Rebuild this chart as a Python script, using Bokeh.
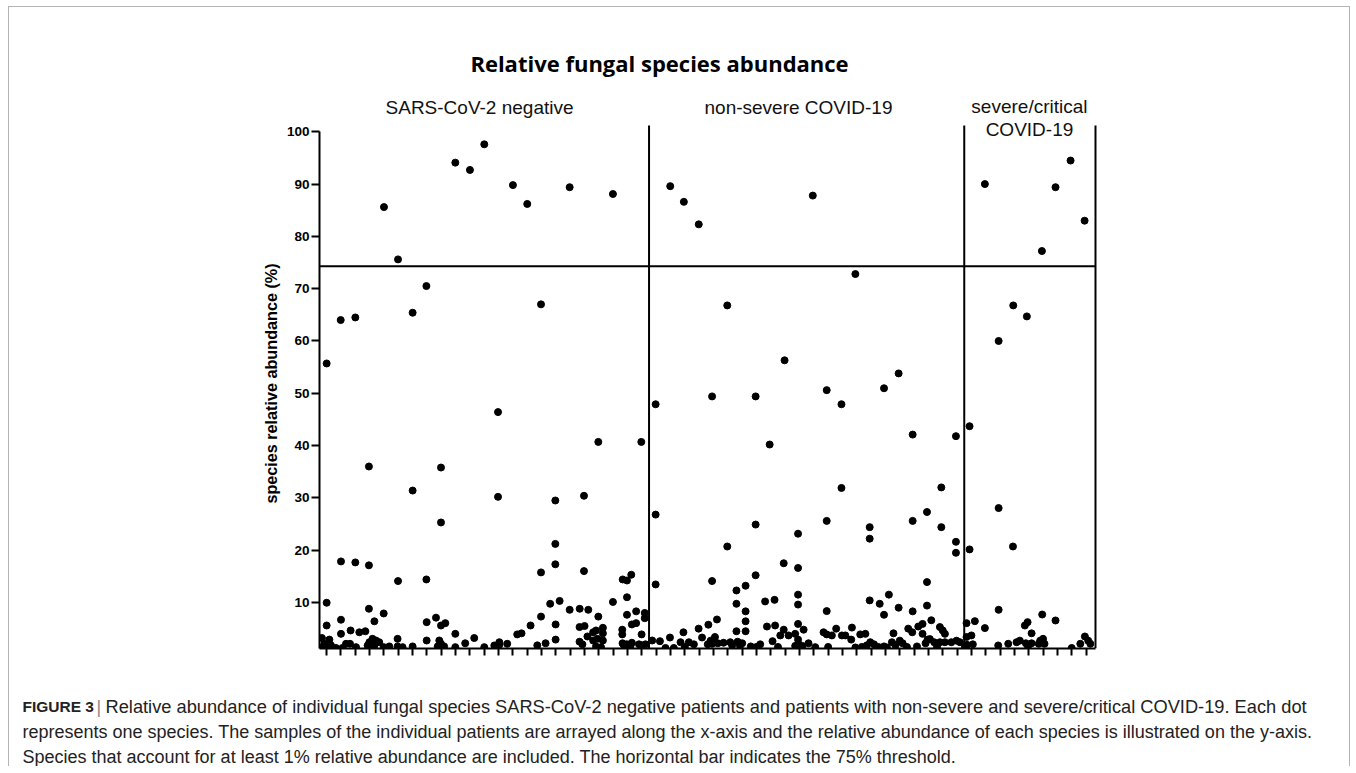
from bokeh.plotting import figure
from bokeh.layouts import column
from bokeh.models import Range1d, FixedTicker
from bokeh.core.properties import value
from bokeh.embed import file_html
from bokeh.resources import INLINE

# ---------------- data ----------------
TITLE = "Relative fungal species abundance"
GROUPS = ["SARS-CoV-2 negative", "non-severe COVID-19", "severe/critical\nCOVID-19"]
GROUP_CENTERS = [11.67, 33.93, 50.05]
DIVIDERS = [23.5, 45.5, 54.66]
PATIENTS = list(range(1, 55))
Y_TICKS = [10, 20, 30, 40, 50, 60, 70, 80, 90, 100]
THRESHOLD = 74.3
Y_LABEL = "species relative abundance (%)"

neg_x = [1.0, 1.98, 3.0, 5.0, 5.98, 7.0, 7.96, 9.98, 11.0, 12.0, 14.0, 15.0, 15.96, 17.96, 20.98,
         3.95, 7.0, 8.98, 8.98, 12.96, 12.96, 16.96, 16.96, 16.96, 18.96, 18.96, 19.96, 22.96,
         2.0, 3.0, 3.95, 5.98, 7.96, 15.96, 21.66, 21.96, 22.26, 21.96,
         1.0, 3.95, 4.98, 17.26, 16.6, 17.96, 18.66, 19.26, 20.98, 21.96, 22.6, 23.2, 23.2, 15.96, 19.96, 8.63,
         1.0, 0.67, 1.19, 0.84, 0.75, 1.0, 1.3, 1.65,
         2.0, 2.0, 2.35, 2.63, 2.67, 2.1,
         3.05, 3.28, 3.7, 4.33, 3.98, 4.2, 4.44, 4.67, 3.86, 4.33,
         4.98, 5.37, 5.95, 5.95, 6.3, 7.0,
         7.98, 7.98, 8.98, 9.28, 8.86, 8.98, 8.75, 9.2, 9.05,
         9.98, 9.98, 10.67, 11.3, 12.0, 12.7, 13.05, 12.9, 13.6, 13.05,
         14.3, 14.6, 15.23, 15.7, 16.28, 16.98, 16.98,
         18.65, 19.0, 18.65, 18.85, 19.2, 19.6, 19.8, 19.6, 19.9, 20.28, 20.28, 20.28, 19.8, 20.15,
         21.63, 21.63, 22.3, 22.6, 22.98, 21.65, 21.95, 22.3, 21.75, 22.2, 22.8, 23.0, 23.25]
neg_y = [55.7, 64.0, 64.5, 85.6, 75.6, 65.4, 70.5, 94.1, 92.7, 97.6, 89.8, 86.2, 67.0, 89.4, 88.1,
         36.0, 31.4, 35.8, 25.3, 46.4, 30.2, 29.5, 21.2, 17.3, 30.4, 16.0, 40.7, 40.7,
         17.85, 17.66, 17.1, 14.1, 14.4, 15.75, 14.4, 14.2, 15.3, 11.0,
         9.95, 8.8, 7.9, 10.3, 9.75, 8.6, 8.8, 8.6, 10.1, 7.65, 8.3, 8.0, 7.0, 7.3, 7.3, 7.1,
         5.6, 3.2, 2.9, 2.1, 1.5, 1.4, 1.8, 1.3,
         6.7, 4.0, 2.1, 2.1, 4.65, 1.3,
         1.46, 4.3, 4.5, 6.4, 2.4, 3.05, 2.73, 2.4, 1.78, 1.78,
         1.46, 1.6, 3.05, 1.6, 1.46, 1.6,
         6.24, 2.73, 5.6, 6.05, 2.73, 2.1, 1.6, 1.6, 1.4,
         4.0, 1.46, 2.2, 3.2, 1.46, 1.78, 2.4, 1.46, 2.1, 1.9,
         3.9, 4.1, 5.6, 1.8, 2.2, 5.8, 2.9,
         5.3, 5.5, 2.5, 2.0, 3.5, 4.3, 4.65, 2.73, 3.05, 5.16, 4.1, 2.73, 1.6, 1.45,
         4.8, 3.9, 5.8, 6.05, 3.9, 2.2, 2.0, 2.3, 1.8, 1.7, 2.0, 1.8, 2.0]

nonsev_x = [23.96, 23.96, 23.96, 24.98, 25.93, 26.97, 28.96, 27.9, 30.94, 30.94, 30.94, 31.92, 32.96,
            34.93, 35.9, 36.93, 36.93, 37.9, 39.9, 40.92, 41.9, 44.92, 28.96, 27.9, 35.9, 33.9, 33.9,
            33.9, 33.9, 33.9, 32.9, 31.6, 32.26, 29.6, 29.6, 30.24, 30.24, 30.24, 30.24, 29.6, 28.24,
            27.64, 26.96, 27.2, 25.9, 24.96, 24.26, 23.72,
            38.9, 38.9, 38.9, 39.6, 40.24, 39.9, 40.92, 41.9, 41.9, 42.9, 42.9, 42.9, 43.2, 43.9, 43.9,
            44.92, 44.92, 35.9,
            24.65, 25.23, 25.7, 26.28, 26.63, 27.8, 28.1, 27.9, 28.3, 28.7, 27.6, 29.17, 29.3, 29.68,
            30.0, 29.85, 30.6, 31.26, 31.73, 32.3, 32.12, 32.66, 32.9, 33.24, 33.7, 34.29, 33.9, 33.95,
            33.7, 34.2, 34.63, 35.1, 35.68, 35.9, 36.26, 36.56, 36.96, 37.2, 37.66, 37.61, 37.9, 38.35,
            38.24, 38.6, 38.94, 38.7, 39.2, 40.56, 39.9, 40.1, 40.45, 40.7, 41.0, 41.2, 41.59, 41.87,
            42.29, 42.59, 42.59, 42.94, 43.1, 42.8, 43.4, 43.8, 44.0, 44.15, 43.8, 44.15, 44.6, 44.96,
            45.2, 41.5, 42.2, 36.0, 32.5, 26.0, 31.0, 39.5, 43.6]
nonsev_y = [47.9, 26.8, 13.45, 89.6, 86.6, 82.3, 66.8, 49.4, 49.4, 24.9, 15.2, 40.2, 56.3,
            87.8, 50.6, 47.9, 31.9, 72.8, 50.96, 53.8, 42.1, 41.8, 20.7, 14.1, 25.6, 23.15, 16.6,
            11.5, 9.6, 5.9, 17.5, 10.2, 10.5, 12.3, 9.75, 13.2, 8.3, 6.4, 4.5, 4.5, 6.75,
            5.75, 5.0, 3.3, 4.3, 3.3, 2.6, 2.73,
            24.4, 22.2, 10.4, 9.75, 11.5, 7.65, 9.0, 25.6, 8.3, 27.3, 13.9, 9.4, 6.6, 32.0, 24.4,
            21.6, 19.5, 8.35,
            1.3, 1.3, 2.4, 2.4, 2.0, 2.7, 3.4, 2.1, 2.2, 2.3, 2.0, 2.4, 1.8, 2.5,
            2.2, 1.7, 1.6, 2.0, 5.4, 5.6, 2.6, 3.7, 4.8, 3.7, 4.0, 4.8, 2.9, 2.0,
            1.7, 1.7, 2.2, 1.46, 4.3, 3.9, 3.7, 5.0, 3.7, 3.7, 5.2, 2.9, 1.4, 1.5,
            3.9, 4.0, 2.4, 1.8, 2.0, 4.1, 1.6, 1.4, 2.4, 1.8, 2.7, 2.2, 5.0, 4.3,
            5.4, 5.9, 4.0, 2.9, 3.0, 2.2, 2.4, 5.3, 4.65, 4.0, 2.4, 2.4, 2.4, 2.7,
            2.4, 1.5, 1.6, 1.5, 1.5, 1.5, 1.5, 1.5, 1.5]

sev_x = [45.87, 45.87, 46.94, 47.9, 47.9, 47.9, 48.92, 48.9, 49.87, 50.92, 51.87, 52.92, 53.9,
         45.66, 46.24, 45.66, 46.0, 45.7, 46.1, 46.94, 47.87, 48.57, 49.15, 49.38, 49.73, 49.92,
         50.2, 49.8, 50.2, 49.95, 50.7, 50.8, 50.94, 51.0, 51.1, 51.87, 53.0, 53.6, 53.92, 54.15,
         54.3, 45.55]
sev_y = [43.7, 20.15, 90.0, 60.0, 28.05, 8.6, 66.8, 20.7, 64.7, 77.2, 89.4, 94.5, 83.0,
         6.05, 6.43, 3.4, 3.7, 1.9, 2.0, 5.1, 1.78, 2.1, 2.4, 2.7, 5.6, 6.24,
         4.1, 2.2, 2.2, 1.6, 2.1, 2.7, 7.7, 3.05, 2.1, 6.56, 1.3, 2.1, 3.5, 2.7,
         2.1, 1.5]

CAPTION_HEAD = "FIGURE 3"
CAPTION = [
    "Relative abundance of individual fungal species SARS-CoV-2 negative patients and patients with non-severe and severe/critical COVID-19. Each dot",
    "represents one species. The samples of the individual patients are arrayed along the x-axis and the relative abundance of each species is illustrated on the y-axis.",
    "Species that account for at least 1% relative abundance are included. The horizontal bar indicates the 75% threshold.",
]

# ---------------- layout ----------------
PAGE_X, PAGE_Y = 9, 7          # page position of the content (inside the grey box)
W = 1340
TOP_END, MAIN_END, CAP_END = 118, 680, 766     # page y where each panel ends
H_TOP = TOP_END - PAGE_Y
H_MAIN = MAIN_END - TOP_END
H_CAP = CAP_END - MAIN_END
FL, FR, FT, FB = 310, 252, 0, 32
X0, X1 = 0.5, 54.8
Y0 = 1.2
PX_PER_Y = 5.23
fw = W - FL - FR
fh = H_MAIN - FT - FB
Y1 = Y0 + fh / PX_PER_Y
DIV_TOP = 101.2
FONT = "Liberation Sans"
FRAME_TOP_PAGE = TOP_END + FT
FRAME_LEFT_PAGE = PAGE_X + FL


def px2x(px):
    return X0 + (px - FRAME_LEFT_PAGE) * (X1 - X0) / fw


def py2y(py):
    return Y1 - (py - FRAME_TOP_PAGE) * (Y1 - Y0) / fh


def plain(fig):
    fig.xgrid.visible = False
    fig.ygrid.visible = False
    fig.outline_line_color = None
    fig.background_fill_color = "white"
    fig.border_fill_color = "white"
    try:
        fig.frame_align = False
    except Exception:
        pass


# ---- header panel (title + group names), same x units as the main plot ----
t = figure(width=W, height=H_TOP, output_backend="svg", toolbar_location=None,
           x_range=Range1d(px2x(PAGE_X), px2x(PAGE_X + W)), y_range=Range1d(py2y(TOP_END), py2y(PAGE_Y)),
           min_border_left=0, min_border_right=0, min_border_top=0, min_border_bottom=0,
           x_axis_type=None, y_axis_type=None)
plain(t)
t.text(x=[px2x(659)], y=[py2y(62)], text=[TITLE], text_font=value("Open Sans"), text_font_style="bold",
       text_font_size="22px", text_align="center", text_baseline="middle", text_color="black")

# ---- main plot ----
p = figure(width=W, height=H_MAIN, output_backend="svg", toolbar_location=None,
           x_range=Range1d(X0, X1), y_range=Range1d(Y0, Y1),
           min_border_left=FL, min_border_right=FR, min_border_top=FT, min_border_bottom=FB)
plain(p)

header_rows = [[106.5], [106.5], [106, 129]]
for name, cx, rows in zip(GROUPS, GROUP_CENTERS, header_rows):
    for part, ry in zip(name.split("\n"), rows):
        target = t if ry < TOP_END else p
        target.text(x=[cx], y=[py2y(ry)], text=[part], text_font=value(FONT), text_font_size="19px",
                    text_align="center", text_baseline="middle", text_color="#111111")

ya = p.yaxis[0]
ya.ticker = FixedTicker(ticks=Y_TICKS)
ya.bounds = (Y0, 100)
ya.axis_line_width = 2
ya.axis_line_color = "black"
ya.major_tick_line_width = 2
ya.major_tick_line_color = "black"
ya.major_tick_out = 8
ya.major_tick_in = 0
ya.minor_tick_line_color = None
ya.major_label_text_font = FONT
ya.major_label_text_font_style = "bold"
ya.major_label_text_font_size = "13.5px"
ya.major_label_text_color = "black"
ya.major_label_standoff = 2
ya.axis_label = Y_LABEL
ya.axis_label_text_font = FONT
ya.axis_label_text_font_style = "bold"
ya.axis_label_text_font_size = "16.2px"
ya.axis_label_text_color = "black"
ya.axis_label_standoff = 4

xa = p.xaxis[0]
xa.ticker = FixedTicker(ticks=PATIENTS)
xa.bounds = (X0, DIVIDERS[-1])
xa.axis_line_width = 2
xa.axis_line_color = "black"
xa.major_tick_line_width = 2
xa.major_tick_line_color = "black"
xa.major_tick_out = 7
xa.major_tick_in = 0
xa.minor_tick_line_color = None
xa.major_label_text_font_size = "8px"
xa.major_label_text_color = None   # samples are unlabeled in the reference

# group dividers and threshold
p.segment(x0=DIVIDERS, x1=DIVIDERS, y0=[Y0] * len(DIVIDERS), y1=[DIV_TOP] * len(DIVIDERS),
          line_color="black", line_width=2)
p.segment(x0=[X0], x1=[DIVIDERS[-1]], y0=[THRESHOLD], y1=[THRESHOLD], line_color="black", line_width=2)

p.scatter(neg_x, neg_y, size=7, color="black")
p.scatter(nonsev_x, nonsev_y, size=7, color="black")
p.scatter(sev_x, sev_y, size=7, color="black")

# ---- caption panel (pixel units, y downwards) ----
c = figure(width=W, height=H_CAP, output_backend="svg", toolbar_location=None,
           x_range=Range1d(0, W), y_range=Range1d(H_CAP, 0),
           min_border_left=0, min_border_right=0, min_border_top=0, min_border_bottom=0,
           x_axis_type=None, y_axis_type=None)
plain(c)
cap_rows = [706 - MAIN_END, 731 - MAIN_END, 756 - MAIN_END]
cap_left = 22 - PAGE_X
CAP_SIZE = "18px"
c.text(x=[cap_left], y=[cap_rows[0]], text=[CAPTION_HEAD], text_font=value(FONT), text_font_style="bold",
       text_font_size="15.5px", text_baseline="middle", text_color="#222222")
c.text(x=[96 - PAGE_X], y=[cap_rows[0]], text=["|"], text_font=value(FONT),
       text_font_size=CAP_SIZE, text_baseline="middle", text_color="#888888")
c.text(x=[105 - PAGE_X], y=[cap_rows[0]], text=[CAPTION[0]], text_font=value(FONT),
       text_font_size="18.25px", text_baseline="middle", text_color="#222222")
c.text(x=[cap_left] * 2, y=cap_rows[1:], text=CAPTION[1:], text_font=value(FONT),
       text_font_size=CAP_SIZE, text_baseline="middle", text_color="#222222")

layout = column(t, p, c, spacing=0)
layout.styles = {"margin-left": "8px", "margin-top": "6px",
                 "border-top": "1px solid #b4b4b4", "border-left": "1px solid #b4b4b4",
                 "border-right": "1px solid #b4b4b4"}

open("out.html", "w").write(file_html(layout, INLINE))
